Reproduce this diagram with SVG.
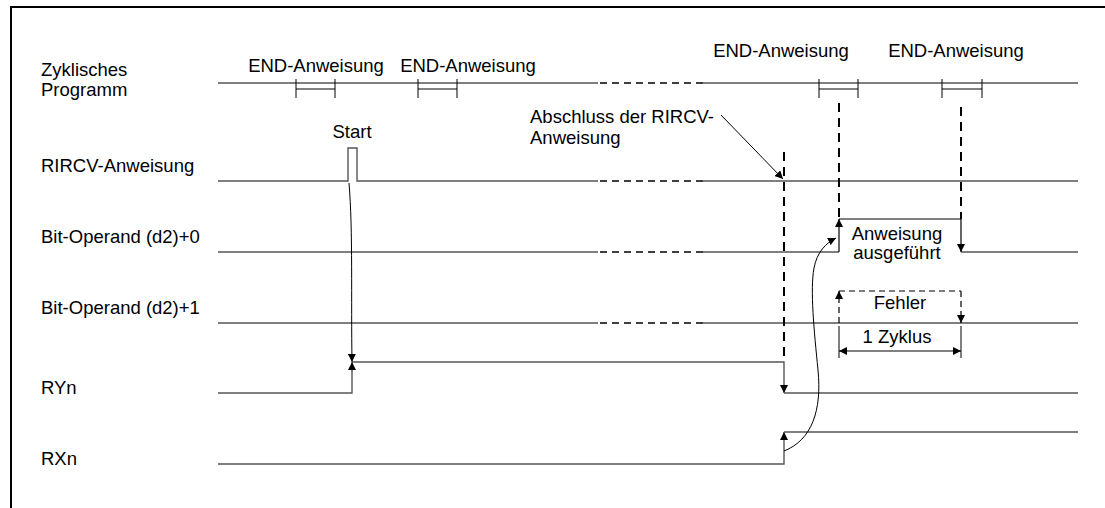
<svg xmlns="http://www.w3.org/2000/svg" width="1105" height="508" viewBox="0 0 1105 508">
  <style>
    text { font-family: "Liberation Sans", Arial, sans-serif; font-size: 18.5px; fill: #000; }
    .mid { text-anchor: middle; }
    .sig { fill: none; stroke: #555; stroke-width: 1.4; }
    .blk { fill: none; stroke: #000; stroke-width: 1.2; }
    .gap { fill: none; stroke: #000; stroke-width: 1.4; stroke-dasharray: 7 5; }
    .vd { fill: none; stroke: #000; stroke-width: 2; stroke-dasharray: 9 6; }
    .fd { fill: none; stroke: #000; stroke-width: 1.2; stroke-dasharray: 6 4; }
    .thin { fill: none; stroke: #000; stroke-width: 1; }
  </style>
  <defs>
    <marker id="arr" viewBox="0 0 10 10" refX="10" refY="5" markerWidth="8" markerHeight="8" markerUnits="userSpaceOnUse" orient="auto">
      <path d="M0,0 L10,5 L0,10 z" fill="#000"/>
    </marker>
  </defs>

  <!-- frame -->
  <path d="M11,508 V7 H1105" fill="none" stroke="#000" stroke-width="2"/>

  <!-- row labels -->
  <g id="labels">
    <text x="41" y="76">Zyklisches</text>
    <text x="41" y="96">Programm</text>
    <text x="41" y="172">RIRCV-Anweisung</text>
    <text x="41" y="243">Bit-Operand (d2)+0</text>
    <text x="41" y="314">Bit-Operand (d2)+1</text>
    <text x="41" y="394">RYn</text>
    <text x="41" y="465">RXn</text>
  </g>

  <!-- cyclic program with END markers -->
  <g id="cycle">
    <path class="blk" d="M218,83 H598 M703,83 H1078"/>
    <path class="gap" d="M600,83 H703"/>
    <path class="thin" d="M296,79 V98 M335,79 V98 M296,89 H335"/>
    <path class="thin" d="M418,79 V98 M457,79 V98 M418,89 H457"/>
    <path class="thin" d="M819,79 V98 M858,79 V98 M819,89 H858"/>
    <path class="thin" d="M942,79 V98 M982,79 V98 M942,89 H982"/>
    <text class="mid" x="316" y="72">END-Anweisung</text>
    <text class="mid" x="468" y="72">END-Anweisung</text>
    <text class="mid" x="781" y="57">END-Anweisung</text>
    <text class="mid" x="956" y="57">END-Anweisung</text>
  </g>

  <!-- RIRCV instruction -->
  <g id="rircv">
    <path class="sig" d="M218,181 H348 V148 H357 V181 H598 M703,181 H1078"/>
    <path class="gap" d="M600,181 H703"/>
    <text class="mid" x="352" y="138">Start</text>
  </g>

  <!-- bit operand (d2)+0 -->
  <g id="bit0">
    <path class="sig" d="M218,252 H598 M703,252 H839"/>
    <path class="gap" d="M600,252 H703"/>
    <path class="sig" d="M961,252 H1078"/>
    <path class="blk" d="M839,252 V219" marker-end="url(#arr)"/>
    <path class="blk" d="M839,219 H961"/>
    <path class="blk" d="M961,219 V252" marker-end="url(#arr)"/>
    <text class="mid" x="897" y="240">Anweisung</text>
    <text class="mid" x="897" y="259">ausgeführt</text>
  </g>

  <!-- bit operand (d2)+1 -->
  <g id="bit1">
    <path class="blk" d="M218,323 H598 M703,323 H1078"/>
    <path class="gap" d="M600,323 H703"/>
    <path class="fd" d="M839,323 V291" marker-end="url(#arr)"/>
    <path class="fd" d="M839,291 H961"/>
    <path class="fd" d="M961,291 V323" marker-end="url(#arr)"/>
    <text class="mid" x="900" y="309">Fehler</text>
  </g>

  <!-- one cycle dimension -->
  <g id="cycle-dim">
    <path class="thin" d="M839,326 V358 M961,326 V358"/>
    <path class="thin" d="M900,351 H961" marker-end="url(#arr)"/>
    <path class="thin" d="M900,351 H839" marker-end="url(#arr)"/>
    <text class="mid" x="897" y="343">1 Zyklus</text>
  </g>

  <!-- RYn -->
  <g id="ryn">
    <path class="sig" d="M218,393 H352 V362" marker-end="url(#arr)"/>
    <path class="sig" d="M352,362 H784 V393" marker-end="url(#arr)"/>
    <path class="sig" d="M784,393 H1078"/>
  </g>

  <!-- RXn -->
  <g id="rxn">
    <path class="sig" d="M218,464 H784 V432" marker-end="url(#arr)"/>
    <path class="sig" d="M784,432 H1078"/>
  </g>

  <!-- connectors -->
  <g id="connectors">
    <path class="vd" d="M784,152 V356"/>
    <path class="vd" d="M839,103 V219"/>
    <path class="vd" d="M961,107 V219"/>
    <path class="thin" d="M349,183 C353,230 351,300 352,362" marker-end="url(#arr)"/>
    <path class="thin" d="M784,451 C812,440 822,410 818,370 C814,330 810,290 814,268 C817,252 826,243 836,238" marker-end="url(#arr)"/>
    <path class="thin" d="M721,115 L783,179" marker-end="url(#arr)"/>
    <text x="530" y="123">Abschluss der RIRCV-</text>
    <text x="530" y="144">Anweisung</text>
  </g>
</svg>
